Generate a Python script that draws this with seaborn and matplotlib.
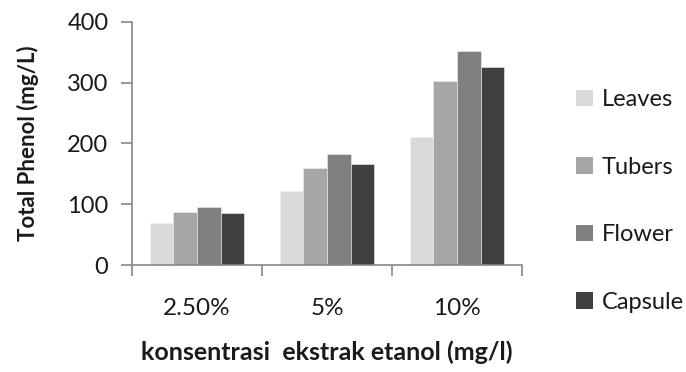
import matplotlib
matplotlib.use("Agg")
import matplotlib.pyplot as plt
import seaborn as sns
import pandas as pd
from matplotlib.patches import Patch

categories = ["2.50%", "5%", "10%"]
parts = ["Leaves", "Tubers", "Flower", "Capsule"]
leaves = [69, 122, 210]
tubers = [87, 160, 302]
flower = [95, 182, 352]
capsule = [85, 166, 326]
colors = ["#d9d9d9", "#a6a6a6", "#808080", "#404040"]
yticks = [0, 100, 200, 300, 400]

rows = []
for part, vals in zip(parts, [leaves, tubers, flower, capsule]):
    for c, v in zip(categories, vals):
        rows.append({"conc": c, "part": part, "val": v})
df = pd.DataFrame(rows)

sns.set_style("white")
plt.rcParams["font.family"] = ["Lato", "DejaVu Sans"]

fig = plt.figure(figsize=(6.86, 3.72), dpi=100)
ax = fig.add_axes([0.1924, 0.2876, 0.5686, 0.6541])

sns.barplot(data=df, x="conc", y="val", hue="part", order=categories,
            hue_order=parts, palette=colors, width=0.73, gap=0,
            edgecolor="#f0f0f0", linewidth=0.4, ax=ax, legend=False,
            saturation=1)

spine_c = "#868686"
txt_c = "#1a1a1a"
ax.set_xlim(-0.5, 2.5)
ax.set_ylim(0, 400)
ax.set_yticks(yticks)
ax.set_yticklabels([str(t) for t in yticks], fontsize=17, color=txt_c)
ax.set_xticks([0, 1, 2])
ax.set_xticklabels(categories, fontsize=17.5, color=txt_c)
ax.set_xticks([-0.5, 0.5, 1.5, 2.5], minor=True)
ax.tick_params(axis="x", which="major", length=0, pad=24)
ax.tick_params(axis="x", which="minor", length=8, width=1.2, color=spine_c, direction="out", bottom=True)
ax.tick_params(axis="y", length=8, width=1.2, color=spine_c, direction="out", left=True, pad=9)

for s in ["top", "right"]:
    ax.spines[s].set_visible(False)
for s in ["left", "bottom"]:
    ax.spines[s].set_color(spine_c)
    ax.spines[s].set_linewidth(1.2)

ax.set_xlabel("konsentrasi  ekstrak etanol (mg/l)", fontsize=18, fontweight="bold",
              color=txt_c, labelpad=15)
ax.set_ylabel("Total Phenol (mg/L)", fontsize=16, fontweight="bold",
              color=txt_c, labelpad=20)

handles = [Patch(facecolor=c, edgecolor="none") for c in colors]
fig.legend(handles, parts, loc="upper left", bbox_to_anchor=(0.84, 0.76),
           frameon=False, fontsize=17, labelspacing=1.97, handlelength=0.72,
           handleheight=0.72, handletextpad=0.35, labelcolor=txt_c,
           borderpad=0, borderaxespad=0)

fig.savefig("out.png", dpi=100)
